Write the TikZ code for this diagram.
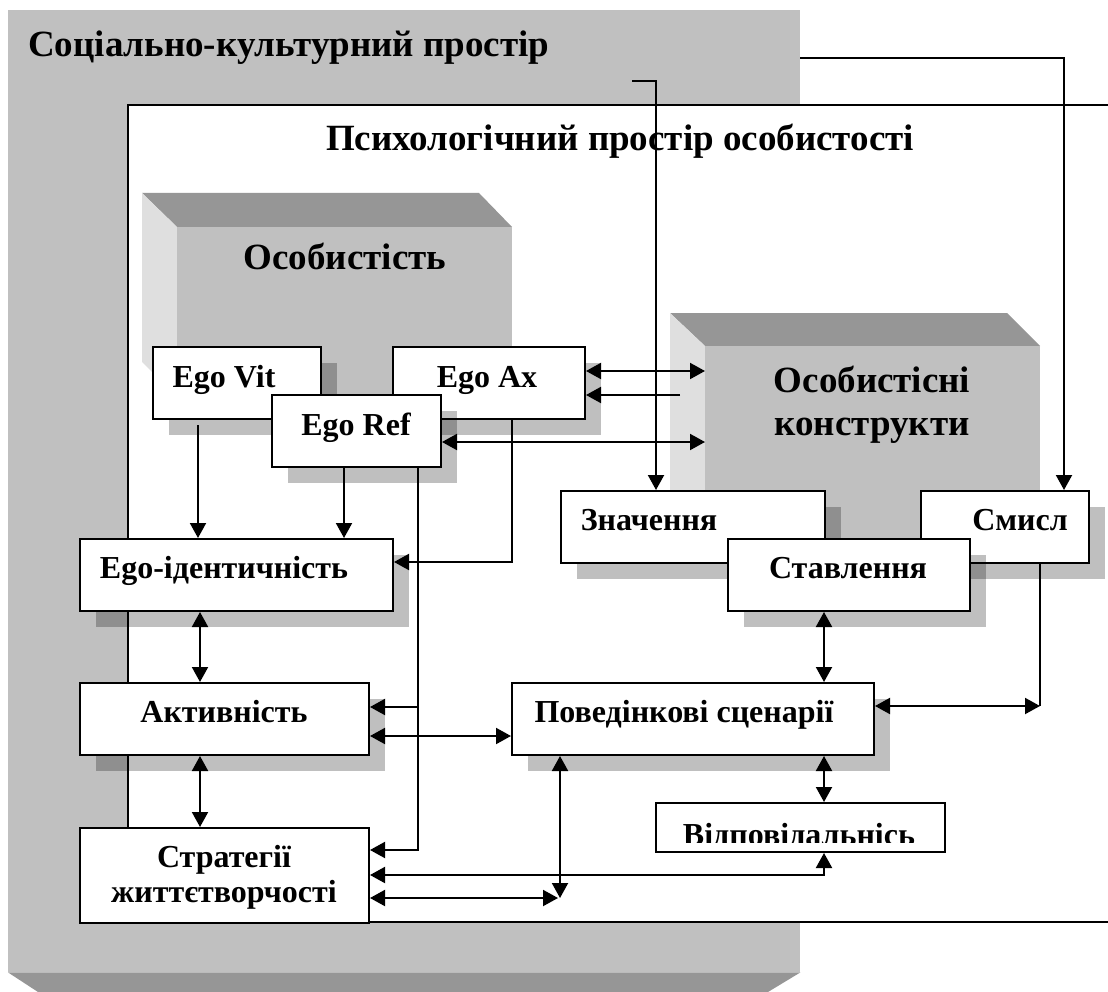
\documentclass[tikz,border=0pt]{standalone}
\usepackage{fontspec}
\setmainfont{Liberation Serif}
\usetikzlibrary{arrows.meta,shadows}

\definecolor{bggray}{gray}{0.753}
\definecolor{darkface}{gray}{0.59}
\definecolor{lightface}{gray}{0.875}

\begin{document}
\begin{tikzpicture}[x=1pt,y=-1pt,
  box/.style={draw=black, line width=2pt, fill=white, inner sep=0pt, anchor=north west},
  shbox/.style={box, drop shadow={shadow xshift=16pt, shadow yshift=-16pt, fill=black, opacity=0.25, draw=none}},
  face/.style={fill=bggray, inner sep=0pt, anchor=north west},
  lbl/.style={anchor=base, inner sep=0pt, font=\fontsize{32}{35}\selectfont\bfseries},
  heading/.style={anchor=base, inner sep=0pt, font=\fontsize{37}{43}\selectfont\bfseries},
  link/.style={line width=2pt, draw=black},
  tip/.style={-{Triangle[length=15pt,width=16pt]}},
  both/.style={{Triangle[length=15pt,width=16pt]}-{Triangle[length=15pt,width=16pt]}},
]
\useasboundingbox (0,0) rectangle (1108,992);

% outer space: grey slab with its bevelled lower face
\node[face, minimum width=792pt, minimum height=962pt] (socbox) at (8,10) {};
\fill[darkface] (socbox.south west) -- (socbox.south east) -- (768,992) -- (38,992) -- cycle;
\node[heading, anchor=base west] (t-soc) at (28,57) {Соціально-культурний простір};

% inner space: white field, open on the right
\node[fill=white, inner sep=0pt, anchor=north west, minimum width=1000pt, minimum height=817pt] (psybox) at (128,105) {};
\draw[link] (psybox.north east) -- (psybox.north west) -- (psybox.south west) -- (psybox.south east);
\node[heading] (t-psy) at (620,151) {Психологічний простір особистості};

% block "Особистість"
\fill[darkface] (142,193) -- (479,193) -- (512,227) -- (177,227) -- cycle;
\fill[lightface] (142,193) -- (177,227) -- (177,397) -- (142,362) -- cycle;
\node[face, minimum width=335pt, minimum height=170pt] (pers) at (177,227) {};
\node[heading] (t-pers) at (345,270) {Особистість};

% block "Особистісні конструкти" (base anchor sits on the last line)
\fill[darkface] (670,313) -- (1007,313) -- (1040,346) -- (705,346) -- cycle;
\fill[lightface] (670,313) -- (705,346) -- (705,545) -- (670,512) -- cycle;
\node[face, minimum width=335pt, minimum height=199pt] (konstr) at (705,346) {};
\node[heading, align=center] (t-kons) at (872,435) {Особистісні\\конструкти};

% ego components
\node[shbox, minimum width=168pt, minimum height=72pt] (egovit) at (152,346) {};
\node[lbl] (t-egovit) at (224,387) {Ego Vit};
\node[shbox, minimum width=192pt, minimum height=72pt] (egoax) at (392,346) {};
\node[lbl] (t-egoax) at (487,387) {Ego Ax};
\node[shbox, minimum width=169pt, minimum height=72pt] (egoref) at (271,394) {};
\node[lbl] (t-egoref) at (356,435) {Ego Ref};

% left column
\node[shbox, minimum width=313pt, minimum height=72pt] (egoid) at (79,538) {};
\node[lbl] (t-egoid) at (224,578) {Ego-ідентичність};
\node[shbox, minimum width=289pt, minimum height=72pt] (activ) at (79,682) {};
\node[lbl] (t-activ) at (224,722) {Активність};
\node[box, minimum width=289pt, minimum height=95pt] (strat) at (79,827) {};
\node[lbl, align=center] (t-strat) at (224,902) {Стратегії\\життєтворчості};

% constructs
\node[shbox, minimum width=264pt, minimum height=72pt] (znach) at (560,490) {};
\node[lbl] (t-znach) at (649,530) {Значення};
\node[shbox, minimum width=168pt, minimum height=72pt] (smysl) at (920,490) {};
\node[lbl] (t-smysl) at (1020,530) {Смисл};
\node[shbox, minimum width=242pt, minimum height=72pt] (stavl) at (727,538) {};
\node[lbl] (t-stavl) at (848,578) {Ставлення};

% behaviour
\node[shbox, minimum width=362pt, minimum height=72pt] (scen) at (511,682) {};
\node[lbl] (t-scen) at (684,722) {Поведінкові сценарії};
\node[box, minimum width=289pt, minimum height=49pt] (resp) at (655,802) {};
\begin{scope}
  \clip (656,803) rectangle (943,842);
  \node[lbl] (t-resp) at (799,845) {Відповідальнісь};
\end{scope}

% free ends of connectors
\coordinate (meanin) at (632,81);
\coordinate (axin) at (680,395);
\coordinate (smcorner) at (1040,706);
\coordinate (scdown) at (560,898);
\coordinate (stend) at (558,898);

% connectors from the outer space
\draw[link,tip] ([shift={(0,48)}]socbox.north east) -| ([shift={(144,0)}]smysl.north west);
\draw[link,tip] (meanin) -| ([shift={(96,0)}]znach.north west);

% ego components to identity and constructs
\draw[link,tip] ([shift={(46,5)}]egovit.south west) -- ([shift={(119,0)}]egoid.north west);
\draw[link,tip] ([shift={(73,0)}]egoref.south west) -- ([shift={(265,0)}]egoid.north west);
\draw[link,tip] ([shift={(120,0)}]egoax.south west) |- ([shift={(0,24)}]egoid.north east);
\draw[link,both] ([shift={(0,25)}]egoax.north east) -- ([shift={(0,25)}]konstr.north west);
\draw[link,tip] (axin) -- (axin -| egoax.east);
\draw[link,both] ([shift={(0,48)}]egoref.north east) -- ([shift={(0,96)}]konstr.north west);
\draw[link,tip] ([shift={(-24,0)}]egoref.south east) |- ([shift={(0,25)}]activ.north east);
\draw[link,tip] ([shift={(-24,0)}]egoref.south east) |- ([shift={(0,23)}]strat.north east);

% left column links
\draw[link,both] ([shift={(121,0)}]egoid.south west) -- ([shift={(121,0)}]activ.north west);
\draw[link,both] ([shift={(121,0)}]activ.south west) -- ([shift={(121,0)}]strat.north west);
\draw[link,both] ([shift={(0,54)}]activ.north east) -- ([shift={(0,54)}]scen.north west);

% right side links
\draw[link,both] ([shift={(97,0)}]stavl.south west) -- ([shift={(313,0)}]scen.north west);
\draw[link,both] ([shift={(313,0)}]scen.south west) -- ([shift={(169,0)}]resp.north west);
\draw[link] ([shift={(120,0)}]smysl.south west) -- (smcorner);
\draw[link,both] ([shift={(0,24)}]scen.north east) -- (smcorner);

% lower links
\draw[link,both] ([shift={(0,48)}]strat.north east) -| ([shift={(169,0)}]resp.south west);
\draw[link,both] ([shift={(49,0)}]scen.south west) -- (scdown);
\draw[link,both] ([shift={(0,71)}]strat.north east) -- (stend);
\end{tikzpicture}
\end{document}
